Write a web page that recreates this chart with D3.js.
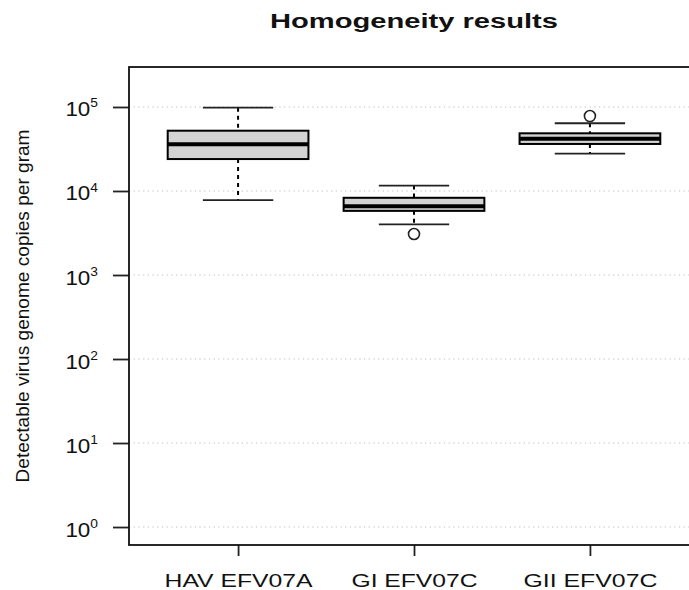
<!DOCTYPE html>
<html>
<head>
<meta charset="utf-8">
<script src="https://cdn.jsdelivr.net/npm/d3@7"></script>
<style>
  body { margin: 0; background: #fff; }
  text { font-family: "Liberation Sans", Arial, sans-serif; fill: #111; }
</style>
</head>
<body>
<div id="chart"></div>
<script>
// values
const categories = ['HAV EFV07A', 'GI EFV07C', 'GII EFV07C'];
const whiskerLow = [7800, 4000, 27800];
const q1 = [24000, 5800, 36300];
const median = [35900, 6600, 42000];
const q3 = [52200, 8300, 48600];
const whiskerHigh = [98000, 11600, 64000];
const outliers = [[], [3080], [78000]];
const yTicks = [0, 1, 2, 3, 4, 5];

const W = 689, H = 590;
const svg = d3.select('#chart').append('svg')
    .attr('width', W)
    .attr('height', H);

const plot = { left: 129, right: 699, top: 67, bottom: 545 };

const x = d3.scaleLinear().domain([0.38, 3.62]).range([plot.left, plot.right]);
const y = d3.scaleLog().domain([Math.pow(10, -0.214), Math.pow(10, 5.476)]).range([plot.bottom, plot.top]);

// dotted grid
svg.append('g')
    .selectAll('line')
    .data(yTicks)
    .enter()
    .append('line')
    .attr('x1', plot.left)
    .attr('x2', plot.right)
    .attr('y1', d => y(Math.pow(10, d)))
    .attr('y2', d => y(Math.pow(10, d)))
    .attr('stroke', '#bdbdbd')
    .attr('stroke-width', 1.2)
    .attr('stroke-dasharray', '1.2,3.5');

// y axis
const yAxis = svg.append('g')
    .attr('transform', `translate(${plot.left},0)`)
    .call(d3.axisLeft(y)
        .tickValues(yTicks.map(d => Math.pow(10, d)))
        .tickSize(16)
        .tickFormat(''));
yAxis.select('.domain').remove();
yAxis.selectAll('.tick line').attr('stroke', '#222').attr('stroke-width', 1.8);
yAxis.selectAll('.tick text').remove();
yAxis.selectAll('.tick')
    .data(yTicks)
    .append('text')
    .attr('transform', 'translate(-31,9) scale(1.15,1)')
    .attr('text-anchor', 'end')
    .style('font-size', '19.5px')
    .call(t => {
        t.append('tspan').text('10');
        t.append('tspan').attr('dy', -9).style('font-size', '12px').text(d => d);
    });

// x axis
const xAxis = svg.append('g')
    .attr('transform', `translate(0,${plot.bottom})`)
    .call(d3.axisBottom(x)
        .tickValues([1, 2, 3])
        .tickSize(11)
        .tickFormat(''));
xAxis.select('.domain').remove();
xAxis.selectAll('.tick line').attr('stroke', '#222').attr('stroke-width', 1.8);
xAxis.selectAll('.tick')
    .data(categories)
    .append('text')
    .attr('y', 42)
    .attr('text-anchor', 'middle')
    .attr('textLength', 148)
    .attr('lengthAdjust', 'spacingAndGlyphs')
    .style('font-size', '18px')
    .text(d => d);
xAxis.selectAll('.tick text').filter(d => d === 'GI EFV07C').attr('textLength', 126);
xAxis.selectAll('.tick text').filter(d => d === 'GII EFV07C').attr('textLength', 134);

// boxes
const boxW = 0.8, capW = 0.4;
const g = svg.append('g');
categories.forEach((c, i) => {
    const cx = i + 1;
    const dash = '4,4';
    g.append('line')
        .attr('x1', x(cx)).attr('x2', x(cx))
        .attr('y1', y(whiskerHigh[i])).attr('y2', y(q3[i]))
        .attr('stroke', '#000').attr('stroke-width', 2).attr('stroke-dasharray', dash);
    g.append('line')
        .attr('x1', x(cx)).attr('x2', x(cx))
        .attr('y1', y(q1[i])).attr('y2', y(whiskerLow[i]))
        .attr('stroke', '#000').attr('stroke-width', 2).attr('stroke-dasharray', dash);
    [whiskerHigh[i], whiskerLow[i]].forEach(v => {
        g.append('line')
            .attr('x1', x(cx - capW / 2)).attr('x2', x(cx + capW / 2))
            .attr('y1', y(v)).attr('y2', y(v))
            .attr('stroke', '#222').attr('stroke-width', 1.8);
    });
    g.append('rect')
        .attr('x', x(cx - boxW / 2))
        .attr('width', x(cx + boxW / 2) - x(cx - boxW / 2))
        .attr('y', y(q3[i]))
        .attr('height', y(q1[i]) - y(q3[i]))
        .attr('fill', '#d3d3d3')
        .attr('stroke', '#000')
        .attr('stroke-width', 2);
    g.append('line')
        .attr('x1', x(cx - boxW / 2)).attr('x2', x(cx + boxW / 2))
        .attr('y1', y(median[i])).attr('y2', y(median[i]))
        .attr('stroke', '#000').attr('stroke-width', 4);
    g.selectAll(null)
        .data(outliers[i])
        .enter()
        .append('circle')
        .attr('cx', x(cx))
        .attr('cy', d => y(d))
        .attr('r', 5.5)
        .attr('fill', 'none')
        .attr('stroke', '#222')
        .attr('stroke-width', 1.6);
});

// frame
svg.append('rect')
    .attr('x', plot.left)
    .attr('y', plot.top)
    .attr('width', plot.right - plot.left)
    .attr('height', plot.bottom - plot.top)
    .attr('fill', 'none')
    .attr('stroke', '#111')
    .attr('stroke-width', 1.8);

// title
svg.append('text')
    .attr('x', 414)
    .attr('y', 28)
    .attr('text-anchor', 'middle')
    .attr('textLength', 288)
    .attr('lengthAdjust', 'spacingAndGlyphs')
    .style('font-size', '20px')
    .style('font-weight', 'bold')
    .text('Homogeneity results');

// y label
svg.append('text')
    .attr('transform', 'translate(29,306) rotate(-90)')
    .attr('text-anchor', 'middle')
    .attr('textLength', 353)
    .attr('lengthAdjust', 'spacingAndGlyphs')
    .style('font-size', '19px')
    .text('Detectable virus genome copies per gram');
</script>
</body>
</html>
